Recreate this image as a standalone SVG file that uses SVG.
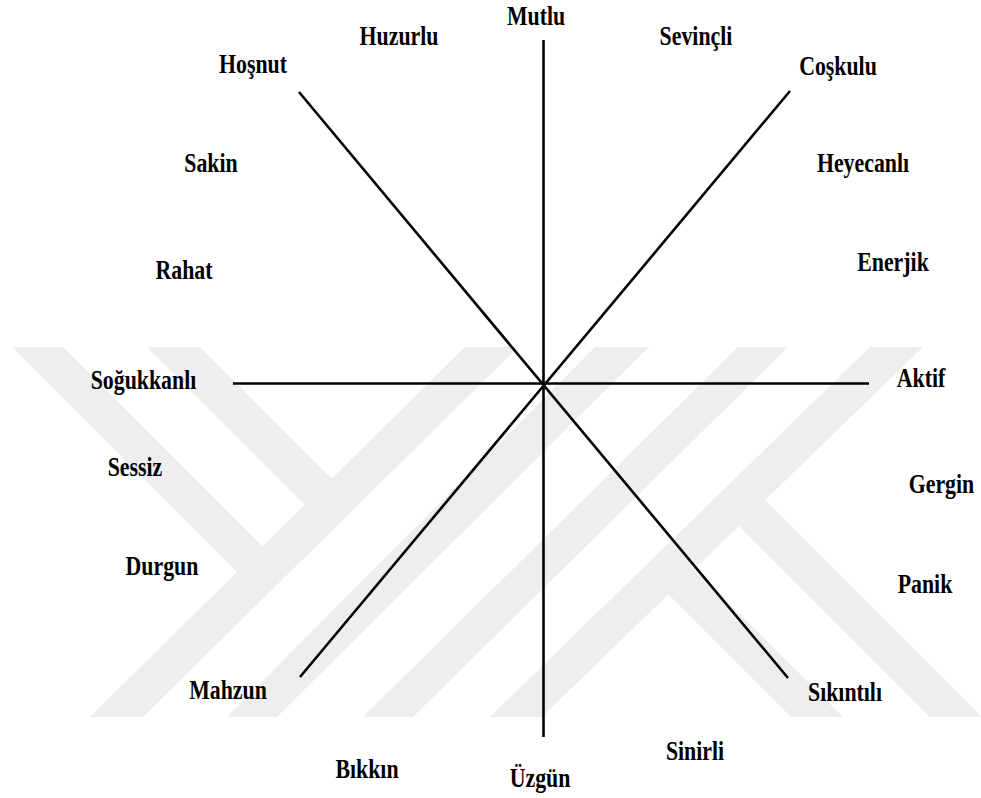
<svg xmlns="http://www.w3.org/2000/svg" width="981" height="798" viewBox="0 0 981 798">
<style>
.wm{fill:#eeeeee;stroke:none}
.ax{stroke:#000;stroke-width:2.6;fill:none}
.lb{font-family:"Liberation Serif","Times New Roman",serif;font-weight:bold;font-size:28px;fill:#000;text-anchor:middle}
</style>
<rect width="981" height="798" fill="#fff"/>
<g id="watermark">
<polygon class="wm" points="12,347 63,347 276,560 250,585"/>
<polygon class="wm" points="147,347 200,347 345,492 318,518"/>
<polygon class="wm" points="465,347 518,347 143,717 90,717"/>
<polygon class="wm" points="595,347 649,347 277,717 227,717"/>
<polygon class="wm" points="738,347 788,347 413,717 363,717"/>
<polygon class="wm" points="870,347 923,347 542,717 490,717"/>
<polygon class="wm" points="682,556 843,717 791,717 655,581"/>
<polygon class="wm" points="752,487 982,717 930,717 726,513"/>
</g>
<g id="connectors">
<line class="ax" x1="543.5" y1="40" x2="543.5" y2="737"/>
<line class="ax" x1="233" y1="383.5" x2="869" y2="383.5" stroke-width="3"/>
<line class="ax" x1="299" y1="92" x2="788" y2="678"/>
<line class="ax" x1="790" y1="91" x2="300" y2="677"/>
</g>
<g id="mutlu"><text class="lb" transform="translate(536,25) scale(0.78,1)">Mutlu</text></g>
<g id="huzurlu"><text class="lb" transform="translate(399,45) scale(0.78,1)">Huzurlu</text></g>
<g id="sevincli"><text class="lb" transform="translate(696,45) scale(0.78,1)">Sevinçli</text></g>
<g id="hosnut"><text class="lb" transform="translate(253,73) scale(0.78,1)">Hoşnut</text></g>
<g id="coskulu"><text class="lb" transform="translate(838,75) scale(0.78,1)">Coşkulu</text></g>
<g id="sakin"><text class="lb" transform="translate(211,172) scale(0.78,1)">Sakin</text></g>
<g id="heyecanli"><text class="lb" transform="translate(863,172) scale(0.78,1)">Heyecanlı</text></g>
<g id="rahat"><text class="lb" transform="translate(184,279) scale(0.78,1)">Rahat</text></g>
<g id="enerjik"><text class="lb" transform="translate(893,271) scale(0.78,1)">Enerjik</text></g>
<g id="sogukkanli"><text class="lb" transform="translate(143.5,389) scale(0.78,1)">Soğukkanlı</text></g>
<g id="aktif"><text class="lb" transform="translate(921,387) scale(0.78,1)">Aktif</text></g>
<g id="sessiz"><text class="lb" transform="translate(135,476) scale(0.78,1)">Sessiz</text></g>
<g id="gergin"><text class="lb" transform="translate(941.5,493) scale(0.78,1)">Gergin</text></g>
<g id="durgun"><text class="lb" transform="translate(162,575) scale(0.78,1)">Durgun</text></g>
<g id="panik"><text class="lb" transform="translate(925,593) scale(0.78,1)">Panik</text></g>
<g id="mahzun"><text class="lb" transform="translate(228,699) scale(0.78,1)">Mahzun</text></g>
<g id="sikintili"><text class="lb" transform="translate(845,701) scale(0.78,1)">Sıkıntılı</text></g>
<g id="sinirli"><text class="lb" transform="translate(695,760) scale(0.78,1)">Sinirli</text></g>
<g id="bikkin"><text class="lb" transform="translate(367,778) scale(0.78,1)">Bıkkın</text></g>
<g id="uzgun"><text class="lb" transform="translate(540,787) scale(0.78,1)">Üzgün</text></g>
</svg>
